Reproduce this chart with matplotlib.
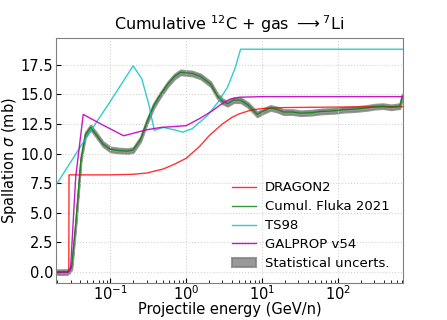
import numpy as np
import matplotlib
matplotlib.use("Agg")
import matplotlib.pyplot as plt

# DRAGON2
e_dragon = [0.02, 0.0284, 0.0286, 0.1, 0.2, 0.3, 0.5, 0.7, 1.0, 1.5, 2.0, 3.0, 4.0,
            5.0, 7.0, 10.0, 20.0, 100.0, 700.0]
xs_dragon = [0.0, 0.0, 8.2, 8.2, 8.25, 8.35, 8.7, 9.1, 9.6, 10.6, 11.5, 12.5, 13.05,
             13.35, 13.65, 13.8, 13.88, 13.92, 13.95]

# Cumulative Fluka 2021
e_fluka = [0.02, 0.027, 0.029, 0.031, 0.035, 0.041, 0.047, 0.055, 0.065, 0.08, 0.1,
           0.13, 0.17, 0.2, 0.25, 0.3, 0.37, 0.45, 0.57, 0.7, 0.84, 1.0, 1.2, 1.55,
           2.1, 2.55, 3.0, 3.5, 4.2, 5.2, 6.5, 8.6, 10.5, 12.9, 16.0, 19.0, 25.0,
           32.0, 45.0, 60.0, 87.0, 120.0, 170.0, 240.0, 300.0, 390.0, 500.0, 650.0, 700.0]
xs_fluka = [0.0, 0.0, 0.15, 0.4, 4.0, 9.5, 11.6, 12.2, 11.6, 10.8, 10.35,
            10.25, 10.2, 10.3, 11.2, 12.6, 14.0, 14.9, 15.85, 16.5, 16.85, 16.8, 16.75, 16.5,
            15.85, 14.9, 14.4, 14.2, 14.5, 14.5, 14.1, 13.3, 13.6, 13.85, 13.7, 13.5, 13.5,
            13.4, 13.45, 13.55, 13.6, 13.7, 13.75, 13.85, 13.95, 14.0, 13.9, 14.0, 14.8]
err_fluka = 0.2

# TS98
e_ts98 = [0.02, 0.05, 0.1, 0.2, 0.26, 0.32, 0.38, 0.5, 0.7, 0.9, 1.2, 1.9, 2.6, 3.5,
          4.4, 5.2, 10.0, 700.0]
xs_ts98 = [7.5, 11.5, 14.4, 17.4, 16.3, 14.2, 11.95, 12.2, 12.0, 11.8, 12.1, 13.2, 14.3,
           15.6, 17.2, 18.8, 18.8, 18.8]

# GALPROP v54
e_galprop = [0.02, 0.028, 0.03, 0.035, 0.044, 0.08, 0.15, 0.3, 0.46, 1.0, 1.55, 2.2,
             2.8, 3.8, 5.0, 10.0, 700.0]
xs_galprop = [0.0, 0.0, 0.3, 8.0, 13.3, 12.4, 11.5, 12.0, 12.2, 12.35, 13.0, 13.6,
              14.1, 14.6, 14.75, 14.8, 14.8]


def main():
    fig, ax = plt.subplots(figsize=(4.47, 3.2), dpi=100)

    ax.plot(e_dragon, xs_dragon, color="red", alpha=0.8, lw=1, label="DRAGON2")
    ax.plot(e_fluka, xs_fluka, color="green", alpha=0.8, lw=1, label="Cumul. Fluka 2021")
    ax.plot(e_ts98, xs_ts98, color="c", alpha=0.8, lw=1, label="TS98")
    ax.plot(e_galprop, xs_galprop, color="m", alpha=0.9, lw=1, label="GALPROP v54")
    lo = np.array(xs_fluka) - err_fluka
    hi = np.array(xs_fluka) + err_fluka
    ax.fill_between(e_fluka, lo, hi, color="gray", alpha=0.8, lw=1.5,
                    edgecolor="gray", label="Statistical uncerts.")

    ax.set_xscale("log")
    ax.set_xlim(0.0192, 720)
    ax.set_ylim(-0.94, 19.74)
    ax.set_yticks([0, 2.5, 5, 7.5, 10, 12.5, 15, 17.5])
    ax.grid(True, ls=":", color="lightgray", lw=0.8)
    ax.tick_params(which="both", direction="in", labelsize=10.5, pad=2)
    ax.tick_params(axis="x", pad=1)
    for s in ax.spines.values():
        s.set_color("gray")

    ax.set_xlabel("Projectile energy (GeV/n)", fontsize=10.5, labelpad=-1)
    ax.set_ylabel(r"Spallation $\sigma$ (mb)", fontsize=10.5, labelpad=1)
    ax.set_title(r"Cumulative $^{12}$C + gas $\longrightarrow$$^{7}$Li", fontsize=11.5)
    ax.legend(loc="lower right", frameon=False, fontsize=9.5, handlelength=1.8,
              handletextpad=0.7, labelspacing=0.45, borderaxespad=0.6)

    fig.subplots_adjust(left=0.125, right=0.902, top=0.881, bottom=0.115)
    fig.savefig("out.png", dpi=100)


if __name__ == "__main__":
    main()
